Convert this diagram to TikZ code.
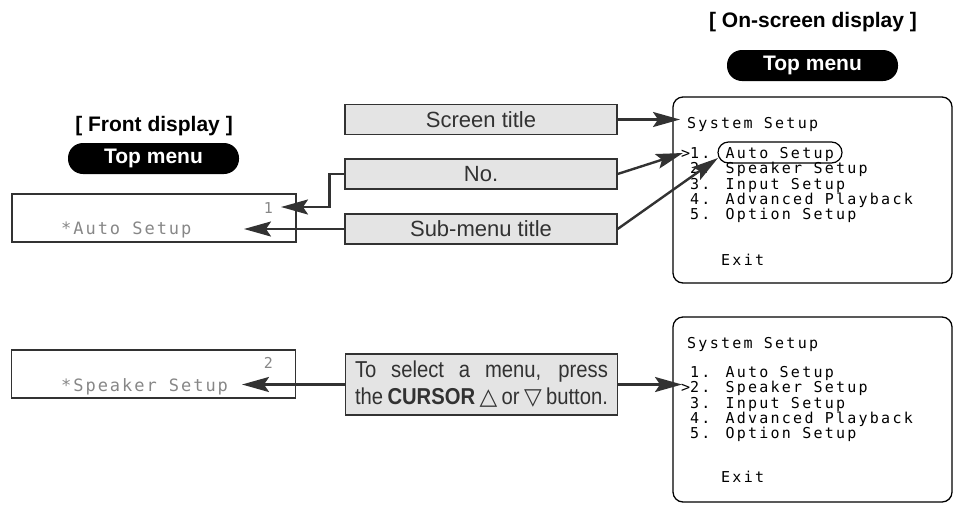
\documentclass[tikz,border=0pt]{standalone}
\usepackage{fontspec}
\setmainfont{Liberation Sans}
\newfontfamily\condfont[FakeStretch=0.88]{Liberation Sans}
\newfontfamily\lcdfont[LetterSpace=11.5]{DejaVu Sans Mono}
\newfontfamily\scrfont[LetterSpace=15]{DejaVu Sans Mono}
\newfontfamily\symfont{DejaVu Sans}
\usetikzlibrary{arrows.meta, positioning}
\definecolor{inkgray}{RGB}{50, 50, 50}
\definecolor{boxgray}{RGB}{228, 228, 228}
\definecolor{lcdgray}{RGB}{135, 135, 135}

\begin{document}
\begin{tikzpicture}[x=1pt, y=-1pt, >={Stealth[length=27pt, width=15pt, inset=5pt]},
    head/.style={font=\fontsize{21}{21}\selectfont\bfseries, inner sep=0pt, anchor=base},
    menutag/.style={fill=black, text=white, rounded corners=15pt,
                    minimum width=171pt, minimum height=31pt, inner sep=0pt,
                    font=\fontsize{21}{21}\selectfont\bfseries},
    tag/.style={draw=inkgray, line width=1.2pt, fill=boxgray, text=inkgray,
                minimum width=272pt, minimum height=30pt, inner sep=0pt,
                font=\fontsize{22}{22}\selectfont},
    lcd/.style={draw=inkgray, line width=1.4pt, minimum width=284pt,
                minimum height=48pt, inner sep=0pt},
    lcdtext/.style={text=lcdgray, inner sep=0pt, font=\fontsize{17}{17}\lcdfont},
    screen/.style={draw=black, line width=1.3pt, rounded corners=10pt,
                   minimum width=279pt, inner sep=0pt},
    scr/.style={anchor=base west, inner sep=0pt, font=\fontsize{15}{15}\scrfont},
    arr/.style={->, draw=inkgray, line width=2.4pt}]
  \useasboundingbox (0,0) rectangle (957,504);

  % headings
  \node[head] (frontHead) at (154,131) {[ Front display ]};
  \node[head] (screenHead) at (813,27) {[ On-screen display ]};
  \node[menutag] (frontTop) at (153.5,158.5) {Top menu};
  \node[menutag] (screenTop) at (812.5,65.5) {Top menu};

  % front display
  \node[lcd] (lcdA) at (154,218) {};
  \node[lcd] (lcdB) at (153.5,374) {};
  \node[lcdtext, anchor=base west] (lcdAtxt) at (61,234) {*Auto Setup};
  \node[lcdtext, anchor=base west] (lcdBtxt) at (61,391) {*Speaker Setup};
  \node[lcdtext, anchor=base east, font=\fontsize{15}{15}\lcdfont] (lcdAno) at (273,213) {1};
  \node[lcdtext, anchor=base east, font=\fontsize{15}{15}\lcdfont] (lcdBno) at (273,368) {2};

  % labels
  \node[tag] (titleTag) at (481,119.5) {Screen title};
  \node[tag] (noTag) at (481,174) {No.};
  \node[tag] (subTag) at (481,229) {Sub-menu title};
  \node[tag, minimum height=61pt, text width=253pt, align=justify,
        font=\fontsize{23}{27}\condfont] (cursorTag) at (481.5,384.5)
        {\parfillskip=0pt To select a menu, press\linebreak
         the \textbf{CURSOR} {\symfont\fontsize{23}{23}\selectfont △} or
         {\symfont\fontsize{23}{23}\selectfont ▽} button.\par};

  % on-screen display
  \node[screen, minimum height=186pt] (screenA) at (812.5,190) {};
  \node[screen, minimum height=185pt] (screenB) at (812.5,409.5) {};

  \node[scr] (sysA) at (687,128) {System Setup};
  \node[scr] (itemA1) at (690,158.5) {\llap{>}1. Auto Setup};
  \node[scr] (itemA2) at (690,173.8) {2. Speaker Setup};
  \node[scr] (itemA3) at (690,189.1) {3. Input Setup};
  \node[scr] (itemA4) at (690,204.4) {4. Advanced Playback};
  \node[scr] (itemA5) at (690,219.7) {5. Option Setup};
  \node[scr] (exitA) at (721,265.5) {Exit};
  \node[draw, line width=1.2pt, rounded corners=10.5pt, minimum width=124pt,
        minimum height=21pt, inner sep=0pt] (selA) at (780,152.5) {};

  \node[scr] (sysB) at (687,348) {System Setup};
  \node[scr] (itemB1) at (690,377.5) {1. Auto Setup};
  \node[scr] (itemB2) at (690,392.8) {\llap{>}2. Speaker Setup};
  \node[scr] (itemB3) at (690,408.1) {3. Input Setup};
  \node[scr] (itemB4) at (690,423.4) {4. Advanced Playback};
  \node[scr] (itemB5) at (690,438.7) {5. Option Setup};
  \node[scr] (exitB) at (721,482.5) {Exit};

  % arrow ends
  \coordinate (sysTip) at (680,119.5);
  \coordinate (noTipR) at (683,153);
  \coordinate (subTipR) at (718,158);
  \coordinate (noTipL) at (281,207);
  \coordinate (subTipL) at (244,229);
  \coordinate (curTipL) at (242,384.5);
  \coordinate (curTipR) at (682,384.5);

  \draw[arr] (titleTag.east) -- (sysTip);
  \draw[arr] (noTag.east) -- (noTipR);
  \draw[arr] (subTag.east) -- (subTipR);
  \draw[arr] (noTag.west) -- ++(-15,0) |- (noTipL);
  \draw[arr] (subTag.west) -- (subTipL);
  \draw[arr] (cursorTag.west) -- (curTipL);
  \draw[arr] (cursorTag.east) -- (curTipR);
\end{tikzpicture}
\end{document}
